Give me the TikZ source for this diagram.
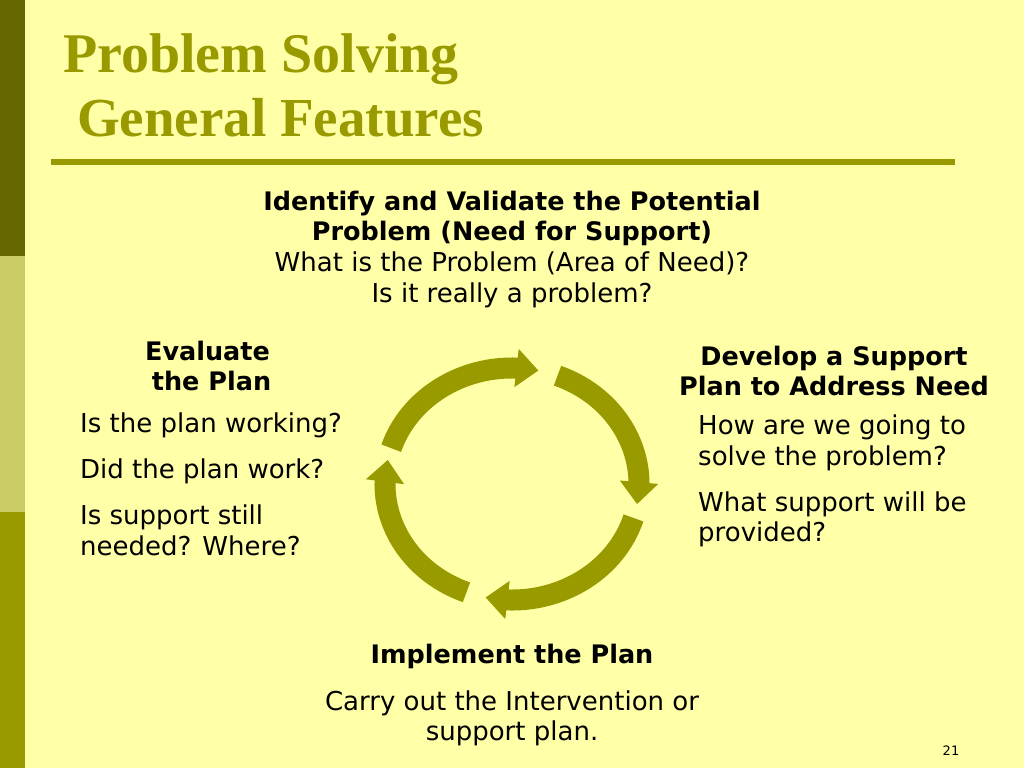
\documentclass[tikz,border=0pt]{standalone}
\usepackage{fontspec}
\usetikzlibrary{arrows.meta,bending,calc}
\newfontfamily\bodyfont{DejaVu Sans}
\newfontfamily\ttlfont{Liberation Serif}
\definecolor{bgyellow}{HTML}{FFFFA8}
\definecolor{darkolive}{HTML}{666600}
\definecolor{lightolive}{HTML}{CCCC66}
\definecolor{olive}{HTML}{999900}
\tikzset{
  txt/.style={inner sep=0pt, anchor=base, font=\bodyfont\fontsize{26}{30}\selectfont, text=black},
  txtl/.style={txt, anchor=base west},
  hd/.style={txt, font=\bodyfont\bfseries\fontsize{25.5}{30}\selectfont},
  ttl/.style={inner sep=0pt, anchor=base west, font=\ttlfont\bfseries\fontsize{56}{60}\selectfont, text=olive},
  cyc/.style={draw=olive, line width=21pt, -{Triangle[width=37pt,length=22pt]}},
}
\begin{document}
\begin{tikzpicture}[x=1pt,y=-1pt]
\useasboundingbox (0,0) rectangle (1024,768);
\fill[bgyellow] (0,0) rectangle (1024,768);
% left bar
\fill[darkolive] (0,0) rectangle (25,256);
\fill[lightolive] (0,256) rectangle (25,512);
\fill[olive] (0,512) rectangle (25,768);
% title
\node[ttl] (t1) at (63,72) {Problem Solving};
\node[ttl, font=\ttlfont\bfseries\fontsize{55}{60}\selectfont] (t2) at (77,136) {General Features};
\coordinate (rl) at (51,162);
\coordinate (rr) at (955,162);
\draw[olive, line width=6pt] (rl) -- (rr);
% top block
\node[hd] (id1) at (512,210) {Identify and Validate the Potential};
\node[hd] (id2) at (512,240) {Problem (Need for Support)};
\node[txt] (id3) at (512,271) {What is the Problem (Area of Need)?};
\node[txt] (id4) at (512,302) {Is it really a problem?};
% left block
\node[hd] (ev1) at (207.5,360) {Evaluate};
\node[hd] (ev2) at (211.5,390) {the Plan};
\node[txtl] (ev3) at (80,432) {Is the plan working?};
\node[txtl] (ev4) at (80,478) {Did the plan work?};
\node[txtl] (ev5) at (80,524) {Is support still};
\node[txtl] (ev6) at (80,555) {needed? Where?};
% right block
\node[hd] (dv1) at (834,365) {Develop a Support};
\node[hd] (dv2) at (834,395) {Plan to Address Need};
\node[txtl] (dv3) at (698,434) {How are we going to};
\node[txtl] (dv4) at (698,465) {solve the problem?};
\node[txtl] (dv5) at (698,511) {What support will be};
\node[txtl] (dv6) at (698,541) {provided?};
% bottom block
\node[hd] (im1) at (512,663) {Implement the Plan};
\node[txt] (im2) at (512,710) {Carry out the Intervention or};
\node[txt] (im3) at (512,740) {support plan.};
% page number
\node[inner sep=0pt, anchor=base, font=\bodyfont\fontsize{13}{15}\selectfont] (pg) at (951,755) {21};
% cycle arrows
\coordinate (c) at (512,484);
\draw[cyc] ($(c)+(-162:127 and 116)$) arc[start angle=-162, end angle=-78, x radius=127, y radius=116];
\draw[cyc] ($(c)+(-69:127 and 116)$) arc[start angle=-69, end angle=10, x radius=127, y radius=116];
\draw[cyc] ($(c)+(17:127 and 116)$) arc[start angle=17, end angle=102, x radius=127, y radius=116];
\draw[cyc] ($(c)+(111:127 and 116)$) arc[start angle=111, end angle=192, x radius=127, y radius=116];
\end{tikzpicture}
\end{document}
